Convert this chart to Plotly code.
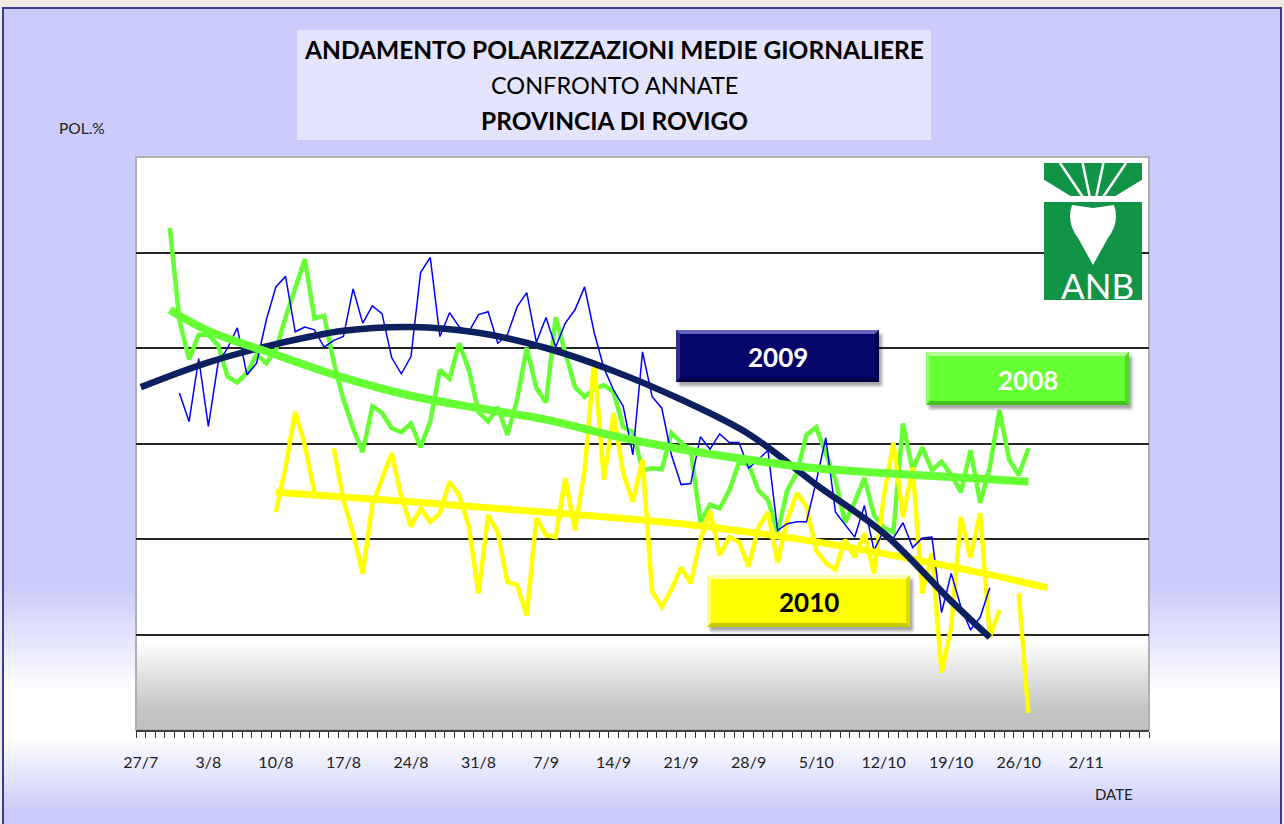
import base64
import math
import plotly.graph_objects as go

# ---------------- data ----------------
# x positions are day numbers counted from 27 July (day 0)
tick_days = [0, 7, 14, 21, 28, 35, 42, 49, 56, 63, 70, 77, 84, 91, 98]
tick_labels = ["27/7", "3/8", "10/8", "17/8", "24/8", "31/8", "7/9", "14/9",
               "21/9", "28/9", "5/10", "12/10", "19/10", "26/10", "2/11"]

# 2009 daily polarisation (from day 4 to day 88)
pol_2009_start = 4
pol_2009 = [15.53, 15.23, 15.89, 15.18, 15.84, 16.00, 16.21, 15.72, 15.84, 16.29,
            16.64, 16.75, 16.17, 16.22, 16.19, 16.01, 16.08, 16.12, 16.62, 16.26,
            16.44, 16.36, 15.90, 15.73, 15.91, 16.79, 16.95, 16.12, 16.37, 16.22,
            16.17, 16.35, 16.38, 16.05,
            16.14, 16.43, 16.58, 16.06, 16.32, 16.01, 16.26, 16.40, 16.64, 16.16,
            15.79, 15.56, 15.39, 14.88, 15.96, 15.49, 15.37, 14.88, 14.57, 14.58,
            15.07, 14.94, 15.10, 15.01, 15.01, 14.74, 14.83, 14.93, 14.09, 14.16,
            14.18, 14.18, 14.60, 15.06, 14.28, 14.15, 14.02, 14.35, 13.88, 14.09,
            14.01, 14.17, 13.91, 14.01, 14.02, 13.23, 13.64, 13.29, 13.05, 13.18,
            13.49]

# 2008 daily polarisation (from day 3 to day 92)
pol_2008_start = 3
pol_2008 = [17.26, 16.29, 15.88, 16.14, 16.14, 16.03, 15.70, 15.64, 15.74, 15.93,
            15.84, 15.98, 16.32, 16.61, 16.93, 16.31, 16.34, 15.85, 15.46, 15.16,
            14.91, 15.39, 15.32, 15.16, 15.12, 15.21, 14.96, 15.23, 15.77, 15.68,
            16.05, 15.77, 15.33, 15.23, 15.38, 15.09, 15.46, 16.00, 15.58, 15.43,
            16.32, 15.95, 15.59, 15.49, 15.57, 15.61, 15.54, 15.17, 15.12, 14.72,
            14.74, 14.73, 15.11, 15.01, 14.93, 14.18, 14.36, 14.32, 14.51, 14.80,
            14.78, 14.51, 14.41, 14.07, 14.51, 14.69, 15.09, 15.17, 14.90, 14.62,
            14.17, 14.39, 14.64, 14.25, 14.12, 14.07, 15.21, 14.72, 14.96, 14.72,
            14.81, 14.67, 14.49, 14.93, 14.38, 14.75, 15.35, 14.83, 14.67, 14.95]

# 2010 daily polarisation (from day 14 to day 92, None = missing day)
pol_2010_start = 14
pol_2010 = [14.28, 14.75, 15.33, 14.98, 14.49, None, 14.95, 14.41, 14.06, 13.64,
            14.36, 14.64, 14.90, 14.44, 14.13, 14.32, 14.18, 14.27, 14.60, 14.46,
            14.13, 13.43, 14.25, 14.07, 13.55, 13.52, 13.20, 14.22, 14.04, 14.02,
            14.64, 14.09, 14.72, 15.87, 14.62, 15.32, 14.69, 14.39, 14.83, 13.45,
            13.29, 13.47, 13.70, 13.54, 13.99, 14.30, 13.83, 14.02, 13.97, 13.71,
            14.12, 14.28, 13.75, 14.20, 14.48, 14.34, 13.88, 13.75, 13.68, 13.99,
            13.81, 14.06, 13.64, 14.44, 15.01, 14.23, 14.75, 13.43, 13.85, 12.60,
            13.08, 14.23, 13.81, 14.27, 12.97, 13.26, None, 13.43, 12.18]

# trend lines
trend_2009_days = [0, 7, 14, 21, 28, 35, 42, 49, 56, 63, 70, 77, 84, 88]
trend_2009 = [15.59, 15.85, 16.04, 16.18, 16.22, 16.16, 16.00, 15.76, 15.46, 15.10,
              14.57, 14.06, 13.35, 12.97]
trend_2008_days = [3, 7, 14, 21, 28, 35, 42, 49, 56, 63, 70, 77, 84, 92]
trend_2008 = [16.40, 16.18, 15.93, 15.69, 15.50, 15.37, 15.25, 15.08, 14.94, 14.83,
              14.74, 14.69, 14.65, 14.60]
trend_2010_days = [14, 28, 42, 56, 70, 84, 94]
trend_2010 = [14.49, 14.39, 14.28, 14.16, 13.97, 13.71, 13.49]

grid_values = [13, 14, 15, 16, 17]

# ---------------- layout helpers ----------------
FIG_W, FIG_H = 1284, 824
L, R, T, B = 136, 1149, 157, 730
PW, PH = R - L, B - T
FONT = "Lato, 'Open Sans', sans-serif"


def X(px):
    return (px - L) / PW


def Y(py):
    return (B - py) / PH


def svg_uri(svg):
    return "data:image/svg+xml;base64," + base64.b64encode(svg.encode()).decode()


def grad_svg(stops):
    s = "".join(f'<stop offset="{o}" stop-color="{c}"/>' for o, c in stops)
    return ('<svg xmlns="http://www.w3.org/2000/svg" width="100" height="100" '
            'viewBox="0 0 100 100" preserveAspectRatio="none"><defs>'
            '<linearGradient id="g" x1="0" y1="0" x2="0" y2="1">' + s +
            '</linearGradient></defs><rect width="100" height="100" fill="url(#g)"/></svg>')


def bevel_svg(w, h, main, top, left, right, bottom, b=4):
    W, H = w + 10, h + 10
    o = 2
    return (f'<svg xmlns="http://www.w3.org/2000/svg" width="{W}" height="{H}" '
            f'viewBox="0 0 {W} {H}"><defs><filter id="s" x="-10%" y="-30%" '
            f'width="120%" height="160%"><feGaussianBlur stdDeviation="1.8"/></filter></defs>'
            f'<rect x="{o+3}" y="{o+4}" width="{w}" height="{h}" fill="#000" '
            f'fill-opacity="0.35" filter="url(#s)"/>'
            f'<rect x="{o}" y="{o}" width="{w}" height="{h}" fill="{main}"/>'
            f'<polygon points="{o},{o} {o+w},{o} {o+w-b},{o+b} {o+b},{o+b}" fill="{top}"/>'
            f'<polygon points="{o},{o} {o+b},{o+b} {o+b},{o+h-b} {o},{o+h}" fill="{left}"/>'
            f'<polygon points="{o+w},{o} {o+w},{o+h} {o+w-b},{o+h-b} {o+w-b},{o+b}" fill="{right}"/>'
            f'<polygon points="{o},{o+h} {o+b},{o+h-b} {o+w-b},{o+h-b} {o+w},{o+h}" fill="{bottom}"/>'
            '</svg>')


def days(start, vals):
    return list(range(start, start + len(vals)))


def rect(x0, y0, x1, y1, fill=None, line=None, lw=0, layer="below"):
    return dict(type="rect", xref="paper", yref="paper", x0=X(x0), x1=X(x1),
                y0=Y(y1), y1=Y(y0), fillcolor=fill or "rgba(0,0,0,0)",
                line=dict(color=line or "rgba(0,0,0,0)", width=lw), layer=layer)


def path(pts, fill, layer="above"):
    d = "M " + " L ".join(f"{X(a):.5f},{Y(b):.5f}" for a, b in pts) + " Z"
    return dict(type="path", xref="paper", yref="paper", path=d, fillcolor=fill,
                line=dict(width=0), layer=layer)


def img(svg, x0, y0, x1, y1, layer="below"):
    return dict(source=svg_uri(svg), xref="paper", yref="paper", x=X(x0), y=Y(y0),
                sizex=(x1 - x0) / PW, sizey=(y1 - y0) / PH, xanchor="left",
                yanchor="top", sizing="stretch", layer=layer)


fig = go.Figure()

# ---------------- traces ----------------
fig.add_trace(go.Scatter(x=days(pol_2008_start, pol_2008), y=pol_2008, mode="lines",
                         name="2008", line=dict(color="#66ff33", width=4.5)))
fig.add_trace(go.Scatter(x=days(pol_2010_start, pol_2010), y=pol_2010, mode="lines",
                         name="2010", connectgaps=False,
                         line=dict(color="#ffff00", width=4.5)))
fig.add_trace(go.Scatter(x=days(pol_2009_start, pol_2009), y=pol_2009, mode="lines",
                         name="2009", line=dict(color="#0000ff", width=1.5)))
fig.add_trace(go.Scatter(x=trend_2010_days, y=trend_2010, mode="lines", name="trend 2010",
                         line=dict(color="#ffff00", width=7, shape="spline")))
fig.add_trace(go.Scatter(x=trend_2009_days, y=trend_2009, mode="lines", name="trend 2009",
                         line=dict(color="#0c2060", width=6.5, shape="spline")))
fig.add_trace(go.Scatter(x=trend_2008_days, y=trend_2008, mode="lines", name="trend 2008",
                         line=dict(color="#66ff33", width=8, shape="spline")))

# ---------------- background / box images ----------------
page_grad = grad_svg([(0, "#ccccfc"), (0.71, "#ccccfc"), (0.835, "#ffffff"),
                      (0.89, "#ffffff"), (0.98, "#ccccfc"), (1, "#ccccfc")])
plot_grad = grad_svg([(0, "#ffffff"), (0.845, "#ffffff"), (0.965, "#c4c4c4"),
                      (1, "#c0c0c0")])
images = [
    img(page_grad, 3, 8, 1281, 826),
    img(plot_grad, L, T, R, B),
]

# label boxes: (x0, y0, x1, y1, main, top, left, right, bottom)
boxes = [
    (676, 330, 879, 382, "#05056a", "#6464bc", "#2e2e94", "#03034c", "#020242"),
    (926, 352, 1129, 405, "#66ff33", "#b4ff96", "#8cff66", "#50d826", "#46c01e"),
    (707, 575, 910, 627, "#ffff00", "#ffffb0", "#ffff78", "#dcdc00", "#c8c800"),
]
for x0, y0, x1, y1, mc, tc, lc, rc, bc in boxes:
    w, h = x1 - x0, y1 - y0
    images.append(img(bevel_svg(w, h, mc, tc, lc, rc, bc),
                      x0 - 2, y0 - 2, x0 - 2 + w + 10, y0 - 2 + h + 10, layer="above"))

shapes = [
    rect(3, 8, 1281, 830, line="#3a3a9a", lw=2, layer="above"),
    rect(297, 30, 931, 140, fill="#e4e4fc"),
    rect(L, T, R, B, line="#b0b0b0", lw=2),
]

# ANB logo
G = "#129447"
LX0, LX1, LY0 = 1044, 1142, 163
logo = [
    rect(LX0, LY0, LX1, 199, fill=G, layer="above"),
    path([(LX0, 180), (LX0, 203), (1082, 203)], "#ffffff"),
    path([(LX1, 180), (LX1, 203), (1104, 203)], "#ffffff"),
    rect(LX0, 196, LX1, 202, fill="#ffffff", layer="above"),
]
cx, cy = 1093, 212
for ang in (-58, -34, -12, 12, 34, 58):
    a = math.radians(ang)
    ex, ey = cx + (cy - LY0) * math.tan(a), LY0
    if ex > LX1 or ex < LX0:
        edge = LX1 if ex > LX1 else LX0
        ey = cy - abs(edge - cx) / math.tan(abs(a))
        ex = edge
    logo.append(dict(type="line", xref="paper", yref="paper", x0=X(cx), y0=Y(cy),
                     x1=X(ex), y1=Y(ey), line=dict(color="#ffffff", width=2.5),
                     layer="above"))
logo.append(rect(LX0, 202, LX1, 300, fill=G, layer="above"))
logo.append(dict(type="path", xref="paper", yref="paper", layer="above",
                 path=(f"M {X(1072):.5f},{Y(205):.5f} "
                       f"Q {X(1066):.5f},{Y(222):.5f} {X(1078):.5f},{Y(238):.5f} "
                       f"L {X(1093):.5f},{Y(265):.5f} L {X(1108):.5f},{Y(238):.5f} "
                       f"Q {X(1120):.5f},{Y(222):.5f} {X(1114):.5f},{Y(205):.5f} "
                       f"L {X(1093):.5f},{Y(208):.5f} Z"),
                 fillcolor="#ffffff", line=dict(width=0)))
shapes += logo


# ---------------- annotations ----------------
def ann(text, px, py, size, color="#000000", bold=False, xanchor="center"):
    t = f"<b>{text}</b>" if bold else text
    return dict(text=t, x=X(px), y=Y(py), xref="paper", yref="paper", showarrow=False,
                xanchor=xanchor, yanchor="middle",
                font=dict(family=FONT, size=size, color=color))


annotations = [
    ann("ANDAMENTO POLARIZZAZIONI MEDIE GIORNALIERE", 614, 49, 24.5, bold=True),
    ann("CONFRONTO ANNATE", 614, 85, 23.5),
    ann("PROVINCIA DI ROVIGO", 614, 121, 24.5, bold=True),
    ann("POL.%", 57, 128, 15.5, color="#222222", xanchor="left"),
    ann("DATE", 1114, 794, 15, color="#222222"),
    ann("2009", 778, 357, 26, color="#ffffff", bold=True),
    ann("2008", 1028, 380, 26, color="#ffffff", bold=True),
    ann("2010", 809, 602, 26, color="#000000", bold=True),
    ann("ANB", 1097, 285, 35, color="#ffffff"),
]

fig.update_layout(
    width=FIG_W, height=FIG_H, autosize=False,
    margin=dict(l=L, r=FIG_W - R, t=T, b=FIG_H - B, pad=0),
    paper_bgcolor="#f0ece4", plot_bgcolor="rgba(0,0,0,0)",
    showlegend=False,
    images=images, shapes=shapes, annotations=annotations,
    xaxis=dict(range=[-0.5, 104.5], tickmode="array", tickvals=tick_days,
               ticktext=tick_labels, ticks="", showgrid=False, zeroline=False,
               showline=True, linecolor="#404040", linewidth=1.5,
               tickfont=dict(family=FONT, size=16, color="#222222"),
               ticklabelstandoff=17,
               minor=dict(tickmode="linear", tick0=-0.5, dtick=1, ticks="outside",
                          ticklen=6, tickcolor="#333333", tickwidth=1, showgrid=False)),
    yaxis=dict(range=[12, 18], tickmode="array", tickvals=grid_values,
               showticklabels=False, ticks="", showgrid=True, gridcolor="#262626",
               gridwidth=1.5, zeroline=False, showline=False),
)

fig.write_html("out.html",
               config={"displayModeBar": False},
               post_script="document.body.style.margin='0px';"
                           "document.body.style.overflow='hidden';")
